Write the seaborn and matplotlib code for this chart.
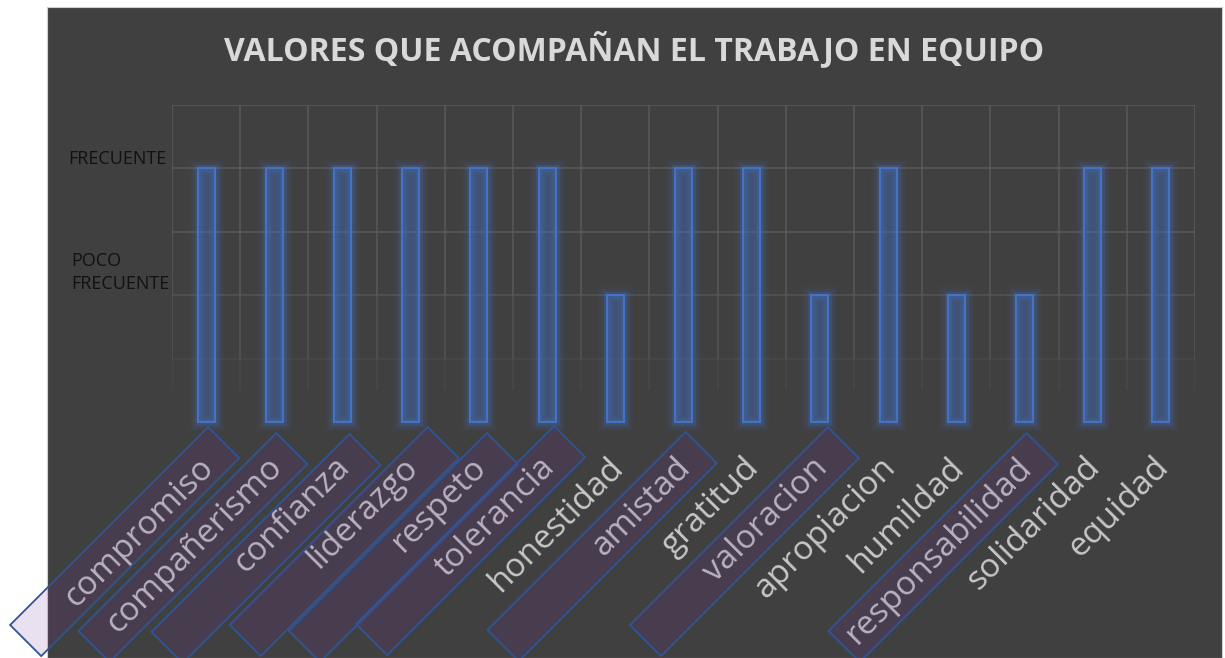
import matplotlib
matplotlib.use("Agg")
import matplotlib.pyplot as plt
import matplotlib.patheffects as pe
import numpy as np
import pandas as pd
import seaborn as sns
from matplotlib.patches import Rectangle
from matplotlib.transforms import Affine2D, offset_copy, blended_transform_factory

# ---------------- data ----------------
CATEGORIES = ["compromiso", "compañerismo", "confianza", "liderazgo", "respeto",
              "tolerancia", "honestidad", "amistad", "gratitud", "valoracion",
              "apropiacion", "humildad", "responsabilidad", "solidaridad", "equidad"]
VALUES = [4, 4, 4, 4, 4, 4, 2, 4, 4, 2, 4, 2, 2, 4, 4]
LEVEL_VALUES = [4, 2]
LEVEL_LABELS = ["FRECUENTE", "POCO\nFRECUENTE"]
TITLE = "VALORES QUE ACOMPAÑAN EL TRABAJO EN EQUIPO"
BOXED = ["compromiso", "compañerismo", "confianza", "liderazgo", "respeto",
         "tolerancia", "amistad", "valoracion", "responsabilidad"]

# ---------------- style ----------------
W, H = 1225, 658
BG = "#404040"
GRID = "#5a5a5a"
BAR_EDGE = "#4472c4"
BOX_EDGE = "#2f5597"
BOX_FILL = (112 / 255, 48 / 255, 160 / 255, 0.15)
LABEL_COLOR = "#c8c8c8"
# (dx px from tick, y px from top) of the upper corner of each label box
BOX_ANCHORS = [(2, 427), (2, 433), (7, 434), (17, 427), (8, 433),
               (7, 426), (2, 432), (8, 427), (2, 433)]
BOX_LEN, BOX_W = 280, 44

plt.rcParams["font.family"] = ["Open Sans", "DejaVu Sans"]

fig = plt.figure(figsize=(W / 100, H / 100), dpi=100)
fig.patch.set_facecolor("white")

# dark chart panel
panel = Rectangle((47 / W, 0), (1222 - 47) / W, (H - 7) / H, transform=fig.transFigure,
                  facecolor=BG, edgecolor="#d0d0d0", linewidth=0.8, zorder=-5)
fig.add_artist(panel)

ax = fig.add_axes([172 / W, (H - 422) / H, 1023 / W, 317 / H])
ax.set_facecolor("none")

df = pd.DataFrame({"valor": CATEGORIES, "nivel": VALUES})
sns.barplot(data=df, x="valor", y="nivel", ax=ax, width=0.25, color=BAR_EDGE,
            saturation=1, errorbar=None, zorder=3)

glow = [pe.Stroke(linewidth=13, foreground=BAR_EDGE, alpha=0.06),
        pe.Stroke(linewidth=9, foreground=BAR_EDGE, alpha=0.10),
        pe.Stroke(linewidth=5, foreground=BAR_EDGE, alpha=0.22),
        pe.Normal()]
for p in ax.patches:
    p.set_facecolor((0.267, 0.447, 0.769, 0.07))
    p.set_edgecolor(BAR_EDGE)
    p.set_linewidth(1.5)
    p.set_clip_on(False)
    p.set_path_effects(glow)

ax.set_xlim(-0.5, len(CATEGORIES) - 0.5)
ax.set_ylim(0, 5)
for s in ax.spines.values():
    s.set_visible(False)
ax.set_xticks([])
ax.set_yticks([])
ax.set_xlabel("")
ax.set_ylabel("")

# gridlines (fade toward the bottom, as in the reference)
for y, a in [(5, 1), (4, 1), (3, 1), (2, 0.8), (1, 0.35)]:
    ax.axhline(y, color=GRID, lw=1.1, alpha=a, zorder=1)
xs = np.arange(-0.5, len(CATEGORIES), 1.0)
ax.vlines(xs, 2, 5, color=GRID, lw=1.1, zorder=1)
ax.vlines(xs, 1, 2, color=GRID, lw=1.1, alpha=0.7, zorder=1)
ax.vlines(xs, 0.5, 1, color=GRID, lw=1.1, alpha=0.3, zorder=1)

# level labels
btr = blended_transform_factory(ax.transAxes, ax.transData)
ax.text(-0.005, LEVEL_VALUES[0] + 0.15, LEVEL_LABELS[0], transform=btr, ha="right",
        va="center", fontsize=13, color="#111111")
ax.text(-0.098, LEVEL_VALUES[1] + 0.355, LEVEL_LABELS[1], transform=btr, ha="left",
        va="center", fontsize=13, color="#111111", linespacing=1.35)

# category labels
lab_tr = offset_copy(ax.get_xaxis_transform(), fig=fig, x=-9, y=-29, units="dots")
for i, c in enumerate(CATEGORIES):
    ax.text(i, 0, c, transform=lab_tr, rotation=45, rotation_mode="anchor",
            ha="right", va="top", fontsize=24, color=LABEL_COLOR, clip_on=False,
            zorder=5)

# label boxes (semi-transparent, drawn over the labels)
for name, (dx, ytop) in zip(BOXED, BOX_ANCHORS):
    i = CATEGORIES.index(name)
    xpx = ax.transData.transform((i, 0))[0]
    tr = Affine2D().rotate_deg(45).translate(xpx + dx, H - ytop)
    r = Rectangle((-BOX_LEN, -BOX_W), BOX_LEN, BOX_W, transform=tr,
                  facecolor=BOX_FILL, edgecolor=BOX_EDGE, linewidth=1.3, zorder=2)
    fig.add_artist(r)

fig.text(634 / W, 1 - 50 / H, TITLE, ha="center", va="center", fontsize=23,
         fontweight="bold", color="#d9d9d9")

fig.savefig("out.png", dpi=100)
